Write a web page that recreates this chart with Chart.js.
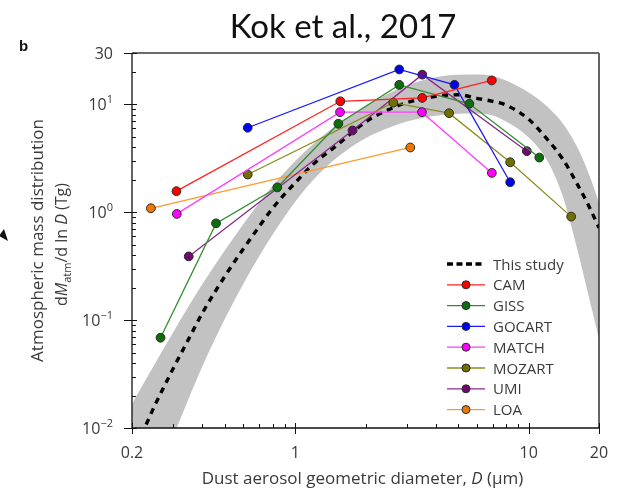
<!DOCTYPE html>
<html>
<head>
<meta charset="utf-8">
<script src="https://cdn.jsdelivr.net/npm/chart.js@4.4.0/dist/chart.umd.min.js"></script>
<style>
  html, body { margin: 0; padding: 0; background: #fff; }
</style>
</head>
<body>
<canvas id="mycanvas" width="625" height="498"></canvas>
<script>
// ** Dust size distribution: fitted curve with its uncertainty band, plus the global models

// fitted curve ("This study") and the edges of the grey band, sampled on one diameter grid (um, Tg)
var diam = [0.2, 0.22, 0.25, 0.3, 0.35, 0.4, 0.5, 0.6, 0.7, 0.8, 1.0, 1.2, 1.5, 2, 2.5, 3, 4, 5, 6, 7, 8, 10, 12, 14, 16, 18, 20];
var studyMid  = [0.0074, 0.009, 0.0161, 0.0355, 0.067, 0.116, 0.256, 0.459, 0.735, 1.09, 1.88, 2.82, 4.14, 6.88, 8.91, 10.4, 11.9, 12.3, 11.4, 10.7, 9.87, 7.29, 4.76, 3.11, 1.89, 1.17, 0.72];
var studyHigh = [0.0167, 0.0241, 0.039, 0.077, 0.135, 0.215, 0.444, 0.778, 1.22, 1.75, 2.99, 4.35, 6.41, 9.68, 12.6, 15.0, 17.9, 18.9, 19.0, 18.4, 16.7, 12.9, 9.58, 6.66, 4.16, 2.34, 1.23];
var studyLow  = [0.00092, 0.00155, 0.0031, 0.0083, 0.0188, 0.0372, 0.103, 0.218, 0.390, 0.619, 1.25, 2.01, 3.18, 4.86, 6.05, 6.95, 7.87, 8.2, 8.25, 7.90, 6.95, 4.94, 3.02, 1.40, 0.49, 0.172, 0.067];

// model output: diameter (um) and dM/dlnD (Tg)
var camD    = [0.31, 1.56, 3.5, 6.95];
var camM    = [1.57, 10.7, 11.5, 16.7];
var gissD   = [0.265, 0.458, 0.838, 1.53, 2.79, 5.57, 11.1];
var gissM   = [0.0687, 0.79, 1.70, 6.62, 15.2, 10.15, 3.22];
var gocartD = [0.626, 2.79, 4.81, 8.33];
var gocartM = [6.08, 21.1, 15.2, 1.90];
var matchD  = [0.311, 1.556, 3.49, 6.95];
var matchM  = [0.966, 8.48, 8.48, 2.32];
var mozartD = [0.626, 2.63, 4.56, 8.33, 15.2];
var mozartM = [2.24, 10.4, 8.3, 2.91, 0.912];
var umiD    = [0.35, 1.76, 3.5, 9.82];
var umiM    = [0.39, 5.74, 18.9, 3.69];
var loaD    = [0.241, 3.11];
var loaM    = [1.09, 3.99];

var modelNames = ['CAM', 'GISS', 'GOCART', 'MATCH', 'MOZART', 'UMI', 'LOA'];

// axis labels
var xTickVals = [0.2, 1, 10, 20];
var xTickText = ['0.2', '1', '10', '20'];
var xMinor = [0.3, 0.4, 0.5, 0.6, 0.7, 0.8, 0.9, 2, 3, 4, 5, 6, 7, 8, 9];
var yTickVals = [0.01, 0.1, 1, 10, 30];
var yTickBase = ['10', '10', '10', '10', '30'];
var yTickExp  = ['\u22122', '\u22121', '0', '1', ''];

var lineColors = ['#ff2020', '#2f8f2f', '#1a1aff', '#ff3cff', '#8c8c1e', '#8a2a8a', '#ff9933'];
var dotColors  = ['#ff0000', '#0b6e0b', '#0000f0', '#ff00ff', '#707000', '#6e0a6e', '#f07800'];

function pts(xs, ys) {
	var out = [];
	for (var i = 0; i < xs.length; i++) out.push({x: xs[i], y: ys[i]});
	return out;
}

var modelData = [
	pts(camD, camM), pts(gissD, gissM), pts(gocartD, gocartM), pts(matchD, matchM),
	pts(mozartD, mozartM), pts(umiD, umiM), pts(loaD, loaM)
];

var datasets = [
	{
		label: 'band high', data: pts(diam, studyHigh), order: 3,
		borderWidth: 0, pointRadius: 0, fill: '+1', backgroundColor: '#c2c2c2',
		cubicInterpolationMode: 'monotone'
	},
	{
		label: 'band low', data: pts(diam, studyLow), order: 3,
		borderWidth: 0, pointRadius: 0, fill: false,
		cubicInterpolationMode: 'monotone'
	},
	{
		label: 'This study', data: pts(diam, studyMid), order: 2,
		borderColor: '#000', borderWidth: 3.4, borderDash: [6, 5.5], pointRadius: 0,
		fill: false, cubicInterpolationMode: 'monotone'
	}
];

for (var k = 0; k < modelNames.length; k++) {
	datasets.push({
		label: modelNames[k], data: modelData[k], order: 1,
		borderColor: lineColors[k], borderWidth: 1.3, fill: false, tension: 0,
		pointRadius: 4.4, pointBackgroundColor: dotColors[k],
		pointBorderColor: '#2a2a2a', pointBorderWidth: 1
	});
}

var FONT = '"Open Sans", "DejaVu Sans", sans-serif';
var TXT = '#3a3a3a';

// draw a run of text pieces with their own fonts, centred (or right aligned) at x
function richText(ctx, parts, x, y, align) {
	var total = 0;
	parts.forEach(function(p) { ctx.font = p.font; p.w = ctx.measureText(p.text).width; total += p.w; });
	var cx = align === 'right' ? x - total : x - total / 2;
	ctx.textAlign = 'left';
	parts.forEach(function(p) {
		ctx.font = p.font;
		ctx.fillText(p.text, cx, y + (p.dy || 0));
		cx += p.w;
	});
}

var decor = {
	id: 'decor',
	afterDraw: function(chart) {
		var ctx = chart.ctx, a = chart.chartArea;
		var xs = chart.scales.x, ys = chart.scales.y;
		ctx.save();

		// frame
		ctx.strokeStyle = '#111';
		ctx.lineWidth = 1.3;
		ctx.beginPath();
		ctx.moveTo(a.left, a.top); ctx.lineTo(a.left, a.bottom); ctx.lineTo(a.right, a.bottom); ctx.lineTo(a.right, a.top);
		ctx.stroke();
		ctx.strokeStyle = '#6a6a6a';
		ctx.lineWidth = 2;
		ctx.beginPath(); ctx.moveTo(a.left, a.top); ctx.lineTo(a.right, a.top); ctx.stroke();

		// tick marks: majors cross the axis, minors point inwards
		ctx.strokeStyle = '#111';
		ctx.lineWidth = 1;
		ctx.beginPath();
		xTickVals.forEach(function(v) {
			var px = Math.round(xs.getPixelForValue(v)) + 0.5;
			ctx.moveTo(px, a.bottom - 5); ctx.lineTo(px, a.bottom + 6);
		});
		xMinor.forEach(function(v) {
			var px = Math.round(xs.getPixelForValue(v)) + 0.5;
			ctx.moveTo(px, a.bottom); ctx.lineTo(px, a.bottom - 4);
		});
		yTickVals.forEach(function(v) {
			var py = Math.round(ys.getPixelForValue(v)) + 0.5;
			ctx.moveTo(a.left - 8, py); ctx.lineTo(a.left + 5, py);
		});
		[0.01, 0.1, 1, 10].forEach(function(dec) {
			for (var m = 2; m <= 9; m++) {
				var v = m * dec;
				if (v > 30) break;
				var py = Math.round(ys.getPixelForValue(v)) + 0.5;
				ctx.moveTo(a.left, py); ctx.lineTo(a.left + 4, py);
			}
		});
		ctx.stroke();

		// tick labels
		ctx.fillStyle = TXT;
		ctx.textBaseline = 'alphabetic';
		ctx.font = '16px ' + FONT;
		ctx.textAlign = 'center';
		xTickVals.forEach(function(v, i) {
			ctx.fillText(xTickText[i], xs.getPixelForValue(v), a.bottom + 30);
		});
		yTickVals.forEach(function(v, i) {
			var py = ys.getPixelForValue(v);
			var parts = [{text: yTickBase[i], font: '16px ' + FONT, dy: 0}];
			if (yTickExp[i]) parts.push({text: yTickExp[i], font: '11px ' + FONT, dy: -7});
			richText(ctx, parts, a.left - 19, py + 6, 'right');
		});

		// axis titles
		ctx.fillStyle = TXT;
		richText(ctx, [
			{text: 'Dust aerosol geometric diameter, ', font: '17px ' + FONT},
			{text: 'D', font: 'italic 17px ' + FONT},
			{text: ' (\u03bcm)', font: '17px ' + FONT}
		], (a.left + a.right) / 2 - 3, 484);

		ctx.save();
		ctx.translate(43, (a.top + a.bottom) / 2);
		ctx.rotate(-Math.PI / 2);
		richText(ctx, [{text: 'Atmospheric mass distribution', font: '17px ' + FONT}], 0, 0);
		ctx.restore();

		ctx.save();
		ctx.translate(67, (a.top + a.bottom) / 2 + 4);
		ctx.rotate(-Math.PI / 2);
		richText(ctx, [
			{text: 'd', font: '16px ' + FONT},
			{text: 'M', font: 'italic 16px ' + FONT},
			{text: 'atm', font: '11px ' + FONT, dy: 4},
			{text: '/d ln ', font: '16px ' + FONT},
			{text: 'D', font: 'italic 16px ' + FONT},
			{text: ' (Tg)', font: '16px ' + FONT}
		], 0, 0);
		ctx.restore();

		// heading and panel letter
		ctx.fillStyle = '#111';
		ctx.textAlign = 'center';
		ctx.font = '33px Lato, "Open Sans", sans-serif';
		ctx.fillText('Kok et al., 2017', 343, 38);
		ctx.textAlign = 'left';
		ctx.font = 'bold 15px "Liberation Sans", Arial, sans-serif';
		ctx.fillText('b', 19, 51);

		// arrowhead at the left margin
		ctx.beginPath();
		ctx.moveTo(8, 241); ctx.lineTo(-1, 236); ctx.lineTo(4, 229);
		ctx.closePath();
		ctx.fill();

		// legend
		var lx0 = 447, lx1 = 485, ltx = 493, ly = 264, step = 20.8;
		ctx.strokeStyle = '#000';
		ctx.lineWidth = 3.4;
		ctx.setLineDash([6, 3.5]);
		ctx.beginPath(); ctx.moveTo(lx0, ly); ctx.lineTo(lx1, ly); ctx.stroke();
		ctx.setLineDash([]);
		ctx.font = '15px ' + FONT;
		ctx.fillStyle = TXT;
		ctx.fillText('This study', ltx, ly + 5.5);
		for (var i = 0; i < modelNames.length; i++) {
			var y = ly + step * (i + 1);
			ctx.strokeStyle = lineColors[i];
			ctx.lineWidth = 1.3;
			ctx.beginPath(); ctx.moveTo(lx0, y); ctx.lineTo(lx1, y); ctx.stroke();
			ctx.beginPath();
			ctx.arc((lx0 + lx1) / 2, y, 4, 0, Math.PI * 2);
			ctx.fillStyle = dotColors[i];
			ctx.fill();
			ctx.strokeStyle = '#2a2a2a';
			ctx.lineWidth = 1;
			ctx.stroke();
			ctx.fillStyle = TXT;
			ctx.fillText(modelNames[i], ltx, y + 5.5);
		}
		ctx.restore();
	}
};

var ctx = document.getElementById('mycanvas');
var chart = new Chart(ctx, {
	type: 'line',
	data: { datasets: datasets },
	options: {
		responsive: false,
		animation: false,
		devicePixelRatio: 1,
		layout: { padding: { top: 53, right: 26, left: 0, bottom: 0 } },
		plugins: {
			legend: { display: false },
			tooltip: { enabled: false }
		},
		scales: {
			x: {
				type: 'logarithmic', min: 0.2, max: 20,
				ticks: { display: false }, grid: { display: false }, border: { display: false },
				afterFit: function(s) { s.height = 70; }
			},
			y: {
				type: 'logarithmic', min: 0.01, max: 30,
				ticks: { display: false }, grid: { display: false }, border: { display: false },
				afterFit: function(s) { s.width = 132; }
			}
		}
	},
	plugins: [decor]
});
</script>
</body>
</html>
